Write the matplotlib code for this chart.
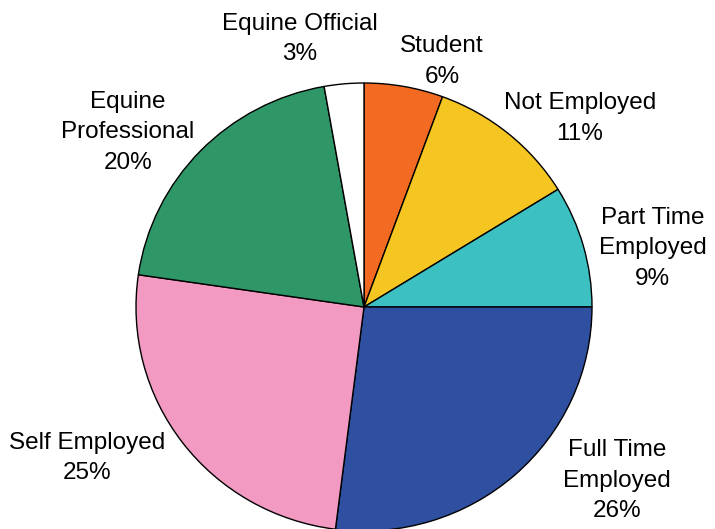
import matplotlib
matplotlib.use("Agg")
import matplotlib.pyplot as plt

categories = ["Student", "Not Employed", "Part Time\nEmployed", "Full Time\nEmployed",
              "Self Employed", "Equine\nProfessional", "Equine Official"]
values = [5.6, 10.6, 8.8, 27.0, 25.3, 19.9, 2.8]
pct_labels = ["6%", "11%", "9%", "26%", "25%", "20%", "3%"]
colors = ["#F36A22", "#F5C522", "#3CC0C2", "#2F4FA0", "#F29AC1", "#2E9667", "#FFFFFF"]

# label anchor points in data units (pie radius = 1)
label_pos = [(0.342, 1.095), (0.947, 0.842), (1.267, 0.263), (1.109, -0.776),
             (-1.215, -0.673), (-1.035, 0.781), (-0.281, 1.197)]

plt.rcParams['font.family'] = ['Liberation Sans', 'DejaVu Sans']

fig = plt.figure(figsize=(7.15, 5.29), dpi=100)
ax = fig.add_axes([0, 0, 1, 1])
wedges, _ = ax.pie(values, colors=colors, startangle=90, counterclock=False,
                   radius=1, wedgeprops=dict(edgecolor="black", linewidth=1.0))
ax.set_aspect('auto')
ax.set_xlim(-364 / 228, (715 - 364) / 228)
ax.set_ylim(-222 / 224, 307 / 224)
ax.axis('off')

for cat, pct, (x, y) in zip(categories, pct_labels, label_pos):
    ax.text(x, y, f"{cat}\n{pct}", ha="center", va="center", fontsize=17.5,
            linespacing=1.5, color="black")

fig.savefig("out.png", dpi=100)
